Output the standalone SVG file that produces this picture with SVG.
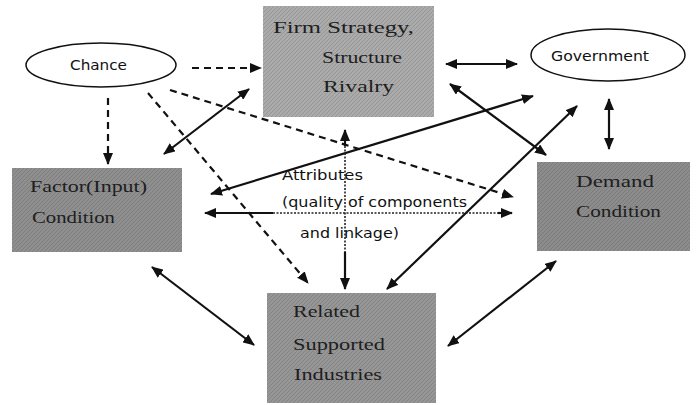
<svg xmlns="http://www.w3.org/2000/svg" width="699" height="405" viewBox="0 0 699 405">
<defs>
<marker id="ah" viewBox="0 0 12 10" refX="11" refY="5" markerWidth="12" markerHeight="10" markerUnits="userSpaceOnUse" orient="auto-start-reverse">
<path d="M0,0 L12,5 L0,10 Z" fill="#111"/>
</marker>
<pattern id="tex" width="4" height="4" patternUnits="userSpaceOnUse">
<path d="M0,4 L4,0" stroke="#000" stroke-opacity="0.12" stroke-width="1"/>
</pattern>
</defs>
<style>
.box{stroke:none}
.bt{font-family:"Liberation Serif","DejaVu Serif",serif;font-size:17px;fill:#1e1e1e}
.et{font-family:"DejaVu Sans","Liberation Sans",sans-serif;font-size:14px;fill:#111}
.at{font-family:"DejaVu Sans","Liberation Sans",sans-serif;font-size:14.5px;fill:#111}
.sol{stroke:#111;stroke-width:2.2;fill:none}
.dash{stroke:#111;stroke-width:2.2;fill:none;stroke-dasharray:7,5}
.dot{stroke:#222;stroke-width:1.6;fill:none;stroke-dasharray:2,1.5}
.ell{fill:#fff;stroke:#111;stroke-width:1.5}
</style>
<rect width="699" height="405" fill="#fff"/>

<g id="firm">
<rect class="box" x="263" y="6" width="171" height="111" fill="#ababab"/>
<rect x="263" y="6" width="171" height="111" fill="url(#tex)"/>
<text class="bt" x="273" y="33" textLength="141" lengthAdjust="spacingAndGlyphs">Firm Strategy,</text>
<text class="bt" x="322" y="63" textLength="80" lengthAdjust="spacingAndGlyphs">Structure</text>
<text class="bt" x="323" y="92" textLength="71" lengthAdjust="spacingAndGlyphs">Rivalry</text>
</g>

<g id="factor">
<rect class="box" x="12" y="168" width="170" height="84" fill="#8f8f8f"/>
<rect x="12" y="168" width="170" height="84" fill="url(#tex)"/>
<text class="bt" x="30" y="192" textLength="117" lengthAdjust="spacingAndGlyphs">Factor(Input)</text>
<text class="bt" x="32" y="223" textLength="83" lengthAdjust="spacingAndGlyphs">Condition</text>
</g>

<g id="demand">
<rect class="box" x="537" y="162" width="153" height="89" fill="#8c8c8c"/>
<rect x="537" y="162" width="153" height="89" fill="url(#tex)"/>
<text class="bt" x="576" y="187" textLength="78" lengthAdjust="spacingAndGlyphs">Demand</text>
<text class="bt" x="576" y="217" textLength="85" lengthAdjust="spacingAndGlyphs">Condition</text>
</g>

<g id="related">
<rect class="box" x="267" y="293" width="169" height="110" fill="#969696"/>
<rect x="267" y="293" width="169" height="110" fill="url(#tex)"/>
<text class="bt" x="293" y="317" textLength="67" lengthAdjust="spacingAndGlyphs">Related</text>
<text class="bt" x="293" y="350" textLength="92" lengthAdjust="spacingAndGlyphs">Supported</text>
<text class="bt" x="294" y="380" textLength="88" lengthAdjust="spacingAndGlyphs">Industries</text>
</g>

<g id="chance">
<ellipse class="ell" cx="101" cy="65" rx="75" ry="22"/>
<text class="et" x="70" y="70" textLength="57" lengthAdjust="spacingAndGlyphs">Chance</text>
</g>

<g id="government">
<ellipse class="ell" cx="608" cy="55" rx="77" ry="26"/>
<text class="et" x="551" y="61" textLength="98" lengthAdjust="spacingAndGlyphs">Government</text>
</g>

<g id="attributes">
<text class="at" x="282" y="180" textLength="81" lengthAdjust="spacingAndGlyphs">Attributes</text>
<text class="at" x="282" y="207" textLength="185" lengthAdjust="spacingAndGlyphs">(quality of components</text>
<text class="at" x="300" y="238" textLength="99" lengthAdjust="spacingAndGlyphs">and linkage)</text>
</g>

<g id="connectors">
<line class="dash" x1="192" y1="68" x2="261" y2="68" marker-end="url(#ah)"/>
<line class="dash" x1="108" y1="98" x2="108" y2="164" marker-end="url(#ah)"/>
<line class="dash" x1="148" y1="93" x2="308" y2="283" marker-end="url(#ah)"/>
<line class="dash" x1="170" y1="90" x2="513" y2="197" marker-end="url(#ah)"/>
<line class="sol" x1="164" y1="154" x2="249" y2="89" marker-start="url(#ah)" marker-end="url(#ah)"/>
<line class="sol" x1="446" y1="64" x2="517" y2="64" marker-start="url(#ah)" marker-end="url(#ah)"/>
<line class="sol" x1="450" y1="84" x2="546" y2="155" marker-start="url(#ah)" marker-end="url(#ah)"/>
<line class="sol" x1="609" y1="99" x2="609" y2="149" marker-start="url(#ah)" marker-end="url(#ah)"/>
<line class="sol" x1="211" y1="194" x2="533" y2="96" marker-start="url(#ah)" marker-end="url(#ah)"/>
<line class="sol" x1="387" y1="289" x2="577" y2="106" marker-start="url(#ah)" marker-end="url(#ah)"/>
<line class="sol" x1="152" y1="267" x2="254" y2="345" marker-start="url(#ah)" marker-end="url(#ah)"/>
<line class="sol" x1="448" y1="346" x2="556" y2="261" marker-start="url(#ah)" marker-end="url(#ah)"/>
<line class="sol" x1="205" y1="213" x2="273" y2="213" marker-start="url(#ah)"/>
<line class="dot" x1="273" y1="213" x2="500" y2="213"/>
<line class="sol" x1="498" y1="213" x2="512" y2="213" marker-end="url(#ah)"/>
<line class="sol" x1="345" y1="130" x2="345" y2="146" marker-start="url(#ah)"/>
<line class="dot" x1="345" y1="146" x2="345" y2="252"/>
<line class="sol" x1="345" y1="252" x2="345" y2="289" marker-end="url(#ah)"/>
</g>
</svg>
